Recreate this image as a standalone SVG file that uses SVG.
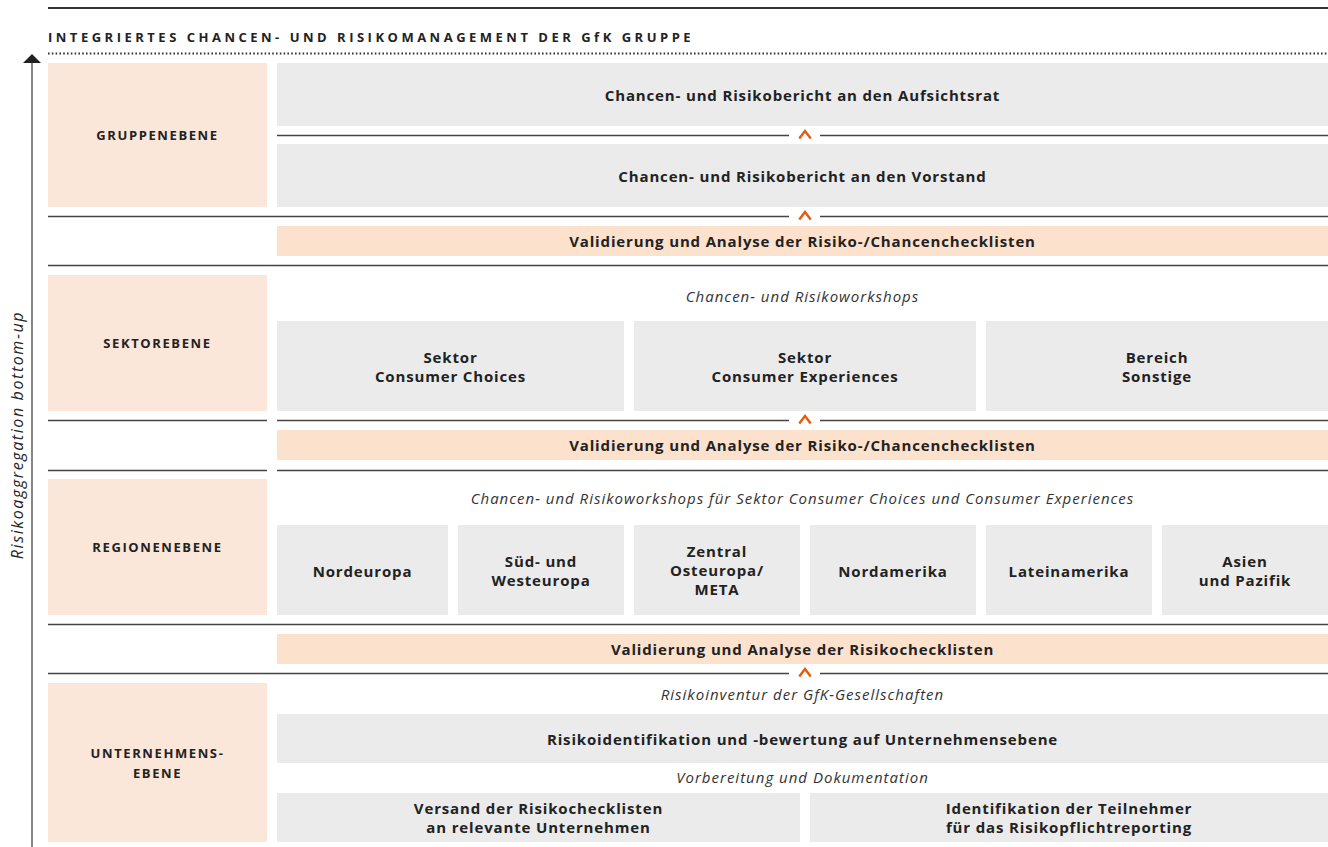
<svg xmlns="http://www.w3.org/2000/svg" width="1328" height="847" viewBox="0 0 1328 847">
<style>
text{font-family:"Open Sans","Noto Sans","Liberation Sans",sans-serif;fill:#222;}
.b{font-weight:700;font-size:15px;letter-spacing:0.85px;text-anchor:middle;dominant-baseline:central;}
.i{font-style:italic;font-size:15px;letter-spacing:1px;text-anchor:middle;dominant-baseline:central;fill:#333;}
.lab{font-weight:700;font-size:13px;letter-spacing:1.6px;text-anchor:middle;dominant-baseline:central;}
.g{fill:#ebebeb;}
.o{fill:#fce1cd;}
.lo{fill:#fbe7d9;}
.ln{stroke:#444;stroke-width:1.3;fill:none;}
.car{stroke:#e8590c;stroke-width:2.4;fill:none;stroke-linecap:square;}
</style>
<defs>
<path id="caret" class="car" d="M-5,3.5 L0,-3 L5,3.5"/>
</defs>

<!-- header -->
<g id="header">
<line x1="48" y1="8" x2="1328" y2="8" stroke="#333" stroke-width="2"/>
<text x="48" y="42" style="font-weight:700;font-size:13px;letter-spacing:3.5px;">INTEGRIERTES CHANCEN- UND RISIKOMANAGEMENT DER GfK GRUPPE</text>
<line x1="48" y1="53.5" x2="1328" y2="53.5" stroke="#333" stroke-width="2" stroke-dasharray="1.6 2.2"/>
</g>

<!-- vertical axis -->
<g id="axis">
<line x1="32" y1="62" x2="32" y2="847" stroke="#444" stroke-width="1.3"/>
<polygon points="23,63 41,63 32,54" fill="#222"/>
<text transform="translate(17,435) rotate(-90)" style="font-style:italic;font-size:16px;letter-spacing:1.6px;text-anchor:middle;dominant-baseline:central;fill:#222;">Risikoaggregation bottom-up</text>
</g>

<!-- connectors / separator lines -->
<g id="connectors">
<line class="ln" x1="277" y1="135.5" x2="789" y2="135.5"/>
<line class="ln" x1="820" y1="135.5" x2="1328" y2="135.5"/>
<use href="#caret" x="805" y="134"/>
<line class="ln" x1="48" y1="216.5" x2="789" y2="216.5"/>
<line class="ln" x1="820" y1="216.5" x2="1328" y2="216.5"/>
<use href="#caret" x="805" y="215"/>
<line class="ln" x1="48" y1="265.5" x2="1328" y2="265.5"/>
<line class="ln" x1="48" y1="420.5" x2="267" y2="420.5"/>
<line class="ln" x1="277" y1="420.5" x2="789" y2="420.5"/>
<line class="ln" x1="820" y1="420.5" x2="1328" y2="420.5"/>
<use href="#caret" x="805" y="419"/>
<line class="ln" x1="48" y1="470.5" x2="267" y2="470.5"/>
<line class="ln" x1="277" y1="470.5" x2="1328" y2="470.5"/>
<line class="ln" x1="48" y1="624.5" x2="1328" y2="624.5"/>
<line class="ln" x1="48" y1="673.5" x2="789" y2="673.5"/>
<line class="ln" x1="820" y1="673.5" x2="1328" y2="673.5"/>
<use href="#caret" x="805" y="672"/>
</g>

<!-- Gruppenebene -->
<g id="gruppenebene">
<rect class="lo" x="48" y="63" width="219" height="144"/>
<text class="lab" x="157.5" y="135">GRUPPENEBENE</text>
</g>
<g id="aufsichtsrat">
<rect class="g" x="277" y="63" width="1051" height="63"/>
<text class="b" x="802.5" y="95">Chancen- und Risikobericht an den Aufsichtsrat</text>
</g>
<g id="vorstand">
<rect class="g" x="277" y="144" width="1051" height="63"/>
<text class="b" x="802.5" y="176">Chancen- und Risikobericht an den Vorstand</text>
</g>
<g id="valid1">
<rect class="o" x="277" y="226" width="1051" height="30"/>
<text class="b" x="802.5" y="241">Validierung und Analyse der Risiko-/Chancenchecklisten</text>
</g>

<!-- Sektorebene -->
<g id="sektorebene">
<rect class="lo" x="48" y="275" width="219" height="136"/>
<text class="lab" x="157.5" y="343">SEKTOREBENE</text>
</g>
<g id="workshops1">
<text class="i" x="802.5" y="296">Chancen- und Risikoworkshops</text>
</g>
<g id="cc">
<rect class="g" x="277" y="321" width="347" height="90"/>
<text class="b" x="450.5" y="357">Sektor</text>
<text class="b" x="450.5" y="376">Consumer Choices</text>
</g>
<g id="ce">
<rect class="g" x="634" y="321" width="342" height="90"/>
<text class="b" x="805" y="357">Sektor</text>
<text class="b" x="805" y="376">Consumer Experiences</text>
</g>
<g id="sonstige">
<rect class="g" x="986" y="321" width="342" height="90"/>
<text class="b" x="1157" y="357">Bereich</text>
<text class="b" x="1157" y="376">Sonstige</text>
</g>
<g id="valid2">
<rect class="o" x="277" y="430" width="1051" height="30"/>
<text class="b" x="802.5" y="445">Validierung und Analyse der Risiko-/Chancenchecklisten</text>
</g>

<!-- Regionenebene -->
<g id="regionenebene">
<rect class="lo" x="48" y="479" width="219" height="136"/>
<text class="lab" x="157.5" y="547">REGIONENEBENE</text>
</g>
<g id="workshops2">
<text class="i" x="802.5" y="498">Chancen- und Risikoworkshops für Sektor Consumer Choices und Consumer Experiences</text>
</g>
<g id="nordeuropa">
<rect class="g" x="277" y="525" width="171" height="90"/>
<text class="b" x="362.5" y="571">Nordeuropa</text>
</g>
<g id="suedwest">
<rect class="g" x="458" y="525" width="166" height="90"/>
<text class="b" x="541" y="561">Süd- und</text>
<text class="b" x="541" y="580">Westeuropa</text>
</g>
<g id="zentral">
<rect class="g" x="634" y="525" width="166" height="90"/>
<text class="b" x="717" y="551">Zentral</text>
<text class="b" x="717" y="570">Osteuropa/</text>
<text class="b" x="717" y="589">META</text>
</g>
<g id="nordamerika">
<rect class="g" x="810" y="525" width="166" height="90"/>
<text class="b" x="893" y="571">Nordamerika</text>
</g>
<g id="lateinamerika">
<rect class="g" x="986" y="525" width="166" height="90"/>
<text class="b" x="1069" y="571">Lateinamerika</text>
</g>
<g id="asien">
<rect class="g" x="1162" y="525" width="166" height="90"/>
<text class="b" x="1245" y="561">Asien</text>
<text class="b" x="1245" y="580">und Pazifik</text>
</g>
<g id="valid3">
<rect class="o" x="277" y="634" width="1051" height="30"/>
<text class="b" x="802.5" y="649">Validierung und Analyse der Risikochecklisten</text>
</g>

<!-- Unternehmensebene -->
<g id="unternehmensebene">
<rect class="lo" x="48" y="683" width="219" height="159"/>
<text class="lab" x="157.5" y="753">UNTERNEHMENS-</text>
<text class="lab" x="157.5" y="773">EBENE</text>
</g>
<g id="inventur">
<text class="i" x="802.5" y="694">Risikoinventur der GfK-Gesellschaften</text>
</g>
<g id="identifikation">
<rect class="g" x="277" y="714" width="1051" height="49"/>
<text class="b" x="802.5" y="739">Risikoidentifikation und -bewertung auf Unternehmensebene</text>
</g>
<g id="vorbereitung">
<text class="i" x="802.5" y="777">Vorbereitung und Dokumentation</text>
</g>
<g id="versand">
<rect class="g" x="277" y="793" width="523" height="49"/>
<text class="b" x="538.5" y="808">Versand der Risikochecklisten</text>
<text class="b" x="538.5" y="827">an relevante Unternehmen</text>
</g>
<g id="teilnehmer">
<rect class="g" x="810" y="793" width="518" height="49"/>
<text class="b" x="1069" y="808">Identifikation der Teilnehmer</text>
<text class="b" x="1069" y="827">für das Risikopflichtreporting</text>
</g>
</svg>
